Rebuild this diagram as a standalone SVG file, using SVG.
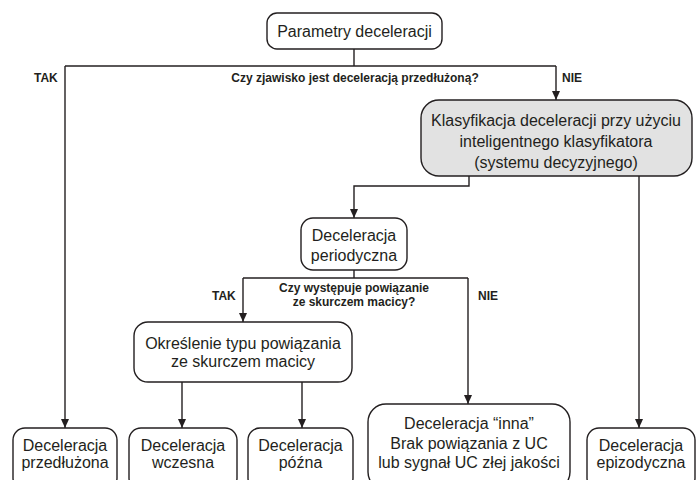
<svg xmlns="http://www.w3.org/2000/svg" width="700" height="480" viewBox="0 0 700 480">
<style>
.box{fill:#fff;stroke:#231f20;stroke-width:1.4}
.gray{fill:#e2e2e2;stroke:#231f20;stroke-width:1.4}
.t{font-family:"Liberation Sans",Arial,sans-serif;font-size:16px;fill:#231f20;text-anchor:middle}
.lbl{font-family:"Liberation Sans",Arial,sans-serif;font-size:12px;font-weight:bold;fill:#231f20}
.q{text-anchor:middle}
.c{fill:none;stroke:#231f20;stroke-width:1.4}
</style>
<defs>
<marker id="arr" markerUnits="userSpaceOnUse" markerWidth="9" markerHeight="10" refX="9" refY="4" orient="auto">
<path d="M0,0 L9,4 L0,8 z" fill="#231f20"/>
</marker>
</defs>
<rect width="700" height="480" fill="#fff"/>
<g id="connectors">
<path class="c" d="M354,49 V66"/>
<path class="c" d="M65,66 H556"/>
<path class="c" d="M65,66 V428" marker-end="url(#arr)"/>
<path class="c" d="M556,66 V100" marker-end="url(#arr)"/>
<path class="c" d="M469,176 V186 H354 V218" marker-end="url(#arr)"/>
<path class="c" d="M639,176 V428" marker-end="url(#arr)"/>
<path class="c" d="M354,270 V278"/>
<path class="c" d="M243,278 H468"/>
<path class="c" d="M243,278 V322" marker-end="url(#arr)"/>
<path class="c" d="M468,278 V404" marker-end="url(#arr)"/>
<path class="c" d="M182,382 V428" marker-end="url(#arr)"/>
<path class="c" d="M302,382 V428" marker-end="url(#arr)"/>
<text class="lbl" x="34" y="82">TAK</text>
<text class="lbl q" x="355" y="82">Czy zjawisko jest deceleracją przedłużoną?</text>
<text class="lbl" x="562" y="82">NIE</text>
<text class="lbl" x="212" y="300">TAK</text>
<text class="lbl q" x="354" y="292">Czy występuje powiązanie</text>
<text class="lbl q" x="354" y="306">ze skurczem macicy?</text>
<text class="lbl" x="478" y="300">NIE</text>
</g>
<g id="n_params">
<rect class="box" x="267" y="13" width="175" height="36" rx="10"/>
<text class="t" x="354.5" y="37">Parametry deceleracji</text>
</g>
<g id="n_klasyfikacja">
<rect class="gray" x="421" y="100" width="271" height="76" rx="18"/>
<text class="t" x="556" y="125.5">Klasyfikacja deceleracji przy użyciu</text>
<text class="t" x="556" y="147">inteligentnego klasyfikatora</text>
<text class="t" x="556" y="168">(systemu decyzyjnego)</text>
</g>
<g id="n_periodyczna">
<rect class="box" x="301" y="218" width="106" height="52" rx="12"/>
<text class="t" x="354" y="241">Deceleracja</text>
<text class="t" x="354" y="261">periodyczna</text>
</g>
<g id="n_okreslenie">
<rect class="box" x="134" y="322" width="218" height="60" rx="14"/>
<text class="t" x="243" y="349">Określenie typu powiązania</text>
<text class="t" x="243" y="367">ze skurczem macicy</text>
</g>
<g id="n_przedluzona">
<rect class="box" x="13" y="428" width="104" height="62" rx="12"/>
<text class="t" x="65" y="451">Deceleracja</text>
<text class="t" x="65" y="468">przedłużona</text>
</g>
<g id="n_wczesna">
<rect class="box" x="129" y="428" width="108" height="62" rx="12"/>
<text class="t" x="183" y="451">Deceleracja</text>
<text class="t" x="183" y="468">wczesna</text>
</g>
<g id="n_pozna">
<rect class="box" x="248" y="428" width="105" height="62" rx="12"/>
<text class="t" x="300.5" y="451">Deceleracja</text>
<text class="t" x="300.5" y="468">późna</text>
</g>
<g id="n_inna">
<rect class="box" x="368" y="404" width="202" height="86" rx="18"/>
<text class="t" x="469" y="429">Deceleracja “inna”</text>
<text class="t" x="469" y="449">Brak powiązania z UC</text>
<text class="t" x="469" y="468">lub sygnał UC złej jakości</text>
</g>
<g id="n_epizodyczna">
<rect class="box" x="587" y="428" width="108" height="62" rx="12"/>
<text class="t" x="641" y="451">Deceleracja</text>
<text class="t" x="641" y="468">epizodyczna</text>
</g>
</svg>
